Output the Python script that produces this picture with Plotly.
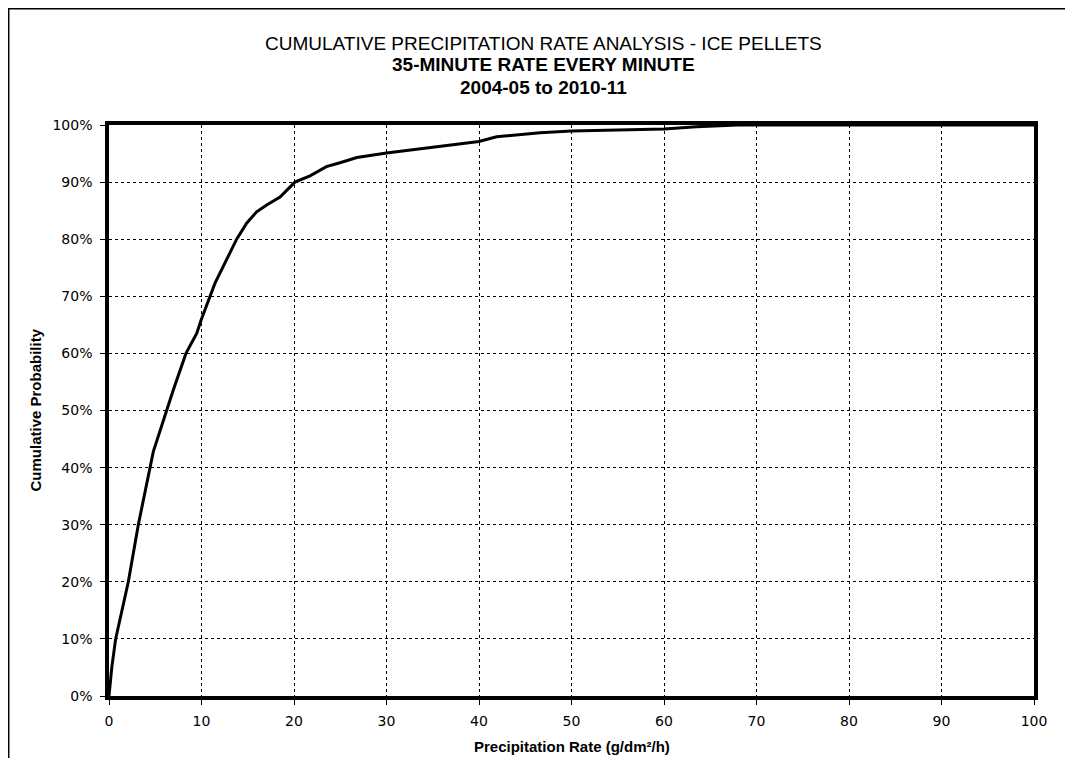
"""Cumulative precipitation rate curve for ice pellets."""
import plotly.graph_objects as go

# precipitation rate (g/dm2/h) and cumulative probability (%)
rate = [0, 0.3, 0.72, 1.6, 2.09, 3.17, 4.43, 4.79, 6.23, 6.95, 8.32, 9.48,
        9.95, 10.92, 11.46, 13.8, 14.88, 15.96, 17.05, 18.49, 20.1, 21.73,
        23.5, 24.97, 26.8, 30.0, 31.5, 35.0, 38.0, 40.0, 41.9, 43.7, 46.6,
        50.0, 54.5, 60.0, 63.5, 68.0, 100.0]
cum_prob = [0, 5, 10, 16.8, 20, 30, 40, 42.8, 50, 53.6, 60, 63.5,
            65.8, 70, 72.3, 80, 82.8, 84.8, 86.0, 87.4, 90, 91.1,
            92.7, 93.4, 94.3, 95.1, 95.4, 96.0, 96.6, 97.1, 97.95, 98.25, 98.65,
            98.95, 99.1, 99.3, 99.7, 100, 100]

title_lines = ["CUMULATIVE PRECIPITATION RATE ANALYSIS - ICE PELLETS",
               "<b>35-MINUTE RATE EVERY MINUTE</b>",
               "<b>2004-05 to 2010-11</b>"]

TEXT_FONT = "Liberation Sans, Arial, sans-serif"
TICK_FONT = "DejaVu Sans, Verdana, sans-serif"

fig = go.Figure()

fig.add_trace(go.Scatter(
    x=rate, y=cum_prob, mode="lines",
    line=dict(color="black", width=3),
    showlegend=False,
))

axis_style = dict(
    range=[0, 100], dtick=10,
    showline=True, linewidth=3.5, linecolor="black", mirror=True,
    ticks="outside", ticklen=5, tickwidth=1, tickcolor="black",
    showgrid=True, gridcolor="black", gridwidth=1, griddash="dot",
    zeroline=False,
    tickfont=dict(family=TICK_FONT, size=14, color="black"),
)

fig.update_xaxes(**axis_style, ticklabelstandoff=4)
fig.update_yaxes(**axis_style, ticksuffix="%", ticklabelstandoff=5)

# title lines, centred on the whole chart rather than on the plot area
for text, ypos in zip(title_lines, [1.1419, 1.1068, 1.0648]):
    fig.add_annotation(text=text, x=0.4697, y=ypos, xref="paper", yref="paper",
                       showarrow=False, yanchor="middle", xanchor="center",
                       font=dict(family=TEXT_FONT, size=19, color="black"))

# axis titles
fig.add_annotation(text="<b>Precipitation Rate (g/dm²/h)</b>", x=0.5, y=-0.0893,
                   xref="paper", yref="paper", showarrow=False, yanchor="middle",
                   font=dict(family=TEXT_FONT, size=15, color="black"))
fig.add_annotation(text="<b>Cumulative Probability</b>", x=-0.08, y=0.5,
                   xref="paper", yref="paper", showarrow=False, textangle=-90,
                   xanchor="center", yanchor="middle",
                   font=dict(family=TEXT_FONT, size=15, color="black"))

# thin frame around the whole chart (right and bottom edges fall off the page)
fig.add_shape(type="rect", xref="paper", yref="paper",
              x0=-0.1084, x1=1.2, y0=-0.3, y1=1.2036,
              line=dict(color="black", width=1.5))

fig.update_layout(
    width=1065, height=750,
    margin=dict(l=101, r=39, t=117, b=62),
    paper_bgcolor="white", plot_bgcolor="white",
)

fig.write_html("out.html")
